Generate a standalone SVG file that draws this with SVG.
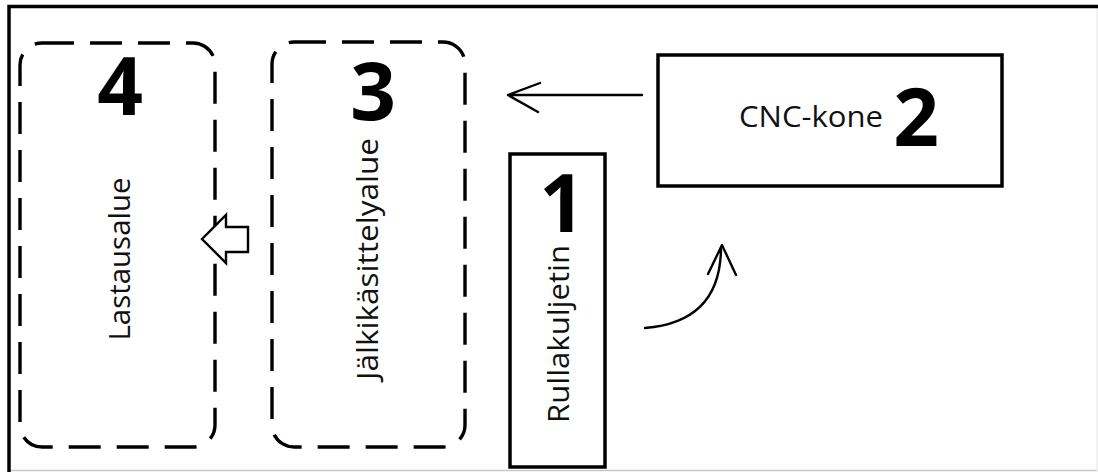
<svg xmlns="http://www.w3.org/2000/svg" width="1098" height="472" viewBox="0 0 1098 472">
<style>
.dash{fill:none;stroke:#000;stroke-width:3.4;stroke-dasharray:32 16}
.solid{fill:#fff;stroke:#000;stroke-width:3.5}
.lbl{font-family:"Open Sans","Liberation Sans",sans-serif;font-size:30px;fill:#111;text-anchor:middle}
.num{font-family:"Open Sans","Liberation Sans",sans-serif;font-weight:bold;font-size:80px;fill:#000;text-anchor:middle}
.conn{fill:none;stroke:#000;stroke-width:2.4;stroke-linecap:round;stroke-linejoin:round}
</style>
<rect width="1098" height="472" fill="#fff"/>
<g id="frame">
<line x1="9" y1="470.5" x2="1098" y2="470.5" stroke="#c8c8c8" stroke-width="1.5"/>
<line x1="1097.2" y1="6" x2="1097.2" y2="471" stroke="#ececec" stroke-width="1.5"/>
<path d="M9 472 V6.5 H1098" fill="none" stroke="#000" stroke-width="3.5"/>
</g>
<g id="node4">
<rect class="dash" x="20" y="43" width="195" height="404" rx="22"/>
<text class="num" x="120" y="115">4</text>
<text class="lbl" transform="translate(130,259) rotate(-90)" textLength="163" lengthAdjust="spacingAndGlyphs">Lastausalue</text>
</g>
<g id="node3">
<rect class="dash" x="272" y="42" width="193" height="405" rx="22"/>
<text class="num" x="373" y="120">3</text>
<text class="lbl" transform="translate(378,259) rotate(-90)" textLength="242" lengthAdjust="spacingAndGlyphs">Jälkikäsittelyalue</text>
</g>
<g id="node1">
<rect class="solid" x="510" y="154" width="95" height="313"/>
<text class="num" x="562" y="232">1</text>
<text class="lbl" transform="translate(569,334) rotate(-90)" textLength="178" lengthAdjust="spacingAndGlyphs">Rullakuljetin</text>
</g>
<g id="node2">
<rect class="solid" x="658" y="55" width="344" height="131"/>
<text class="lbl" x="811" y="127" textLength="144" lengthAdjust="spacingAndGlyphs">CNC-kone</text>
<text class="num" x="916" y="146">2</text>
</g>
<g id="connectors">
<path class="conn" d="M642 95 H508 M540 83 L508 95 L538 112"/>
<path class="conn" d="M645 328 Q720 322 721 249 M708 274 L722 245 L736 275"/>
<polygon points="202,239 226,215 226,227 248,227 248,252 226,252 226,263" fill="#fff" stroke="#000" stroke-width="2.4" stroke-linejoin="miter"/>
</g>
</svg>
